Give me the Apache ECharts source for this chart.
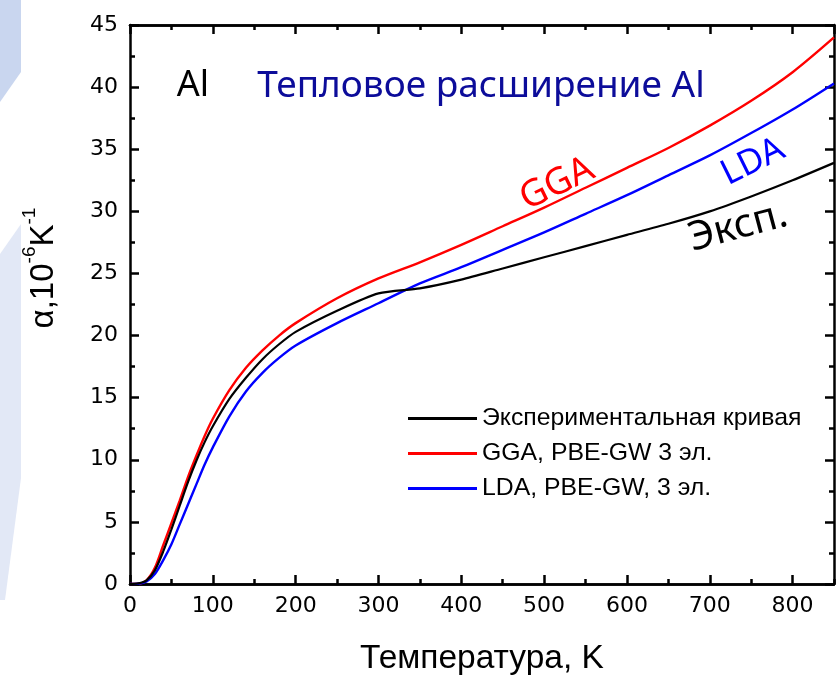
<!DOCTYPE html>
<html>
<head>
<meta charset="utf-8">
<script src="https://cdn.jsdelivr.net/npm/echarts@6/dist/echarts.min.js"></script>
<style>
  html, body { margin: 0; padding: 0; background: #ffffff; }
  #chart { width: 836px; height: 681px; }
</style>
</head>
<body>
<div id="chart"></div>
<script>
// Temperature grid, K
const temps = [0, 10, 20, 30, 40, 50, 60, 70, 80, 90, 100, 120, 140, 160, 180, 200, 250, 300, 350, 400, 450, 500, 550, 600, 650, 700, 750, 800, 850];
// Linear thermal expansion coefficient, 10^-6 K^-1
const expCurve = [0, 0.05, 0.3, 1.1, 2.6, 4.4, 6.3, 8.2, 9.9, 11.4, 12.7, 14.9, 16.6, 18.1, 19.3, 20.3, 22.0, 23.4, 23.8, 24.5, 25.4, 26.3, 27.2, 28.1, 29.0, 30.0, 31.2, 32.5, 33.9];
const ggaCurve = [0, 0.02, 0.3, 1.3, 3.1, 4.9, 6.7, 8.6, 10.3, 11.9, 13.3, 15.6, 17.4, 18.8, 20.0, 21.0, 23.0, 24.6, 25.9, 27.3, 28.8, 30.3, 31.9, 33.5, 35.1, 36.9, 38.9, 41.2, 44.0];
const ldaCurve = [0, 0.02, 0.2, 0.8, 1.9, 3.2, 4.8, 6.4, 8.0, 9.6, 11.0, 13.5, 15.5, 17.0, 18.2, 19.2, 21.0, 22.6, 24.2, 25.5, 26.9, 28.3, 29.8, 31.3, 32.9, 34.5, 36.3, 38.2, 40.3];

const seriesNames = ['Экспериментальная кривая', 'GGA, PBE-GW 3 эл.', 'LDA, PBE-GW, 3 эл.'];
const xTitle = 'Температура, K';

const pairs = (ys) => temps.map((t, i) => [t, ys[i]]);

const tickFont = 'DejaVu Sans';
const axisLine = { show: true, onZero: false, lineStyle: { color: '#000', width: 2.5 } };

function xAx(pos, interval, len, labels) {
  return {
    type: 'value', position: pos, min: 0, max: 850, interval: interval,
    axisLine: axisLine,
    axisTick: { show: true, inside: true, length: len, lineStyle: { color: '#000', width: 2.5 } },
    axisLabel: labels ? { show: true, showMaxLabel: false, margin: 11, fontFamily: tickFont, fontSize: 22, color: '#000' } : { show: false },
    splitLine: { show: false }
  };
}
function yAx(pos, labels) {
  return {
    type: 'value', position: pos, min: 0, max: 45, interval: 5,
    axisLine: axisLine,
    axisTick: { show: true, inside: true, length: 9, lineStyle: { color: '#000', width: 2.5 } },
    minorTick: { show: true, splitNumber: 2, length: 5, lineStyle: { color: '#000', width: 2.5 } },
    axisLabel: labels ? { show: true, margin: 12, fontFamily: tickFont, fontSize: 22, color: '#000' } : { show: false },
    splitLine: { show: false }
  };
}

const chart = echarts.init(document.getElementById('chart'), null, { renderer: 'canvas' });

chart.setOption({
  backgroundColor: '#ffffff',
  animation: false,
  grid: { left: 130, right: 2, top: 25, bottom: 82 },
  xAxis: [
    Object.assign(xAx('bottom', 100, 9, true), {
      name: xTitle, nameLocation: 'middle', nameGap: 58,
      nameTextStyle: { fontFamily: 'Liberation Sans', fontSize: 33.5, color: '#000' }
    }),
    xAx('bottom', 50, 5, false),
    xAx('top', 100, 9, false),
    xAx('top', 50, 5, false)
  ],
  yAxis: [yAx('left', true), yAx('right', false)],
  legend: {
    orient: 'vertical', left: 403, top: 401,
    icon: 'rect', itemWidth: 69, itemHeight: 3, itemGap: 10,
    textStyle: { fontFamily: 'Liberation Sans', fontSize: 24.8, lineHeight: 24, color: '#000' },
    data: seriesNames
  },
  series: [
    { name: seriesNames[0], type: 'line', data: pairs(expCurve), showSymbol: false, smooth: 0.25,
      color: '#000000', lineStyle: { color: '#000000', width: 2.2 }, z: 3 },
    { name: seriesNames[1], type: 'line', data: pairs(ggaCurve), showSymbol: false, smooth: 0.3,
      color: '#ff0000', lineStyle: { color: '#ff0000', width: 2.4 }, z: 2 },
    { name: seriesNames[2], type: 'line', data: pairs(ldaCurve), showSymbol: false, smooth: 0.3,
      color: '#0000ff', lineStyle: { color: '#0000ff', width: 2.4 }, z: 2 }
  ],
  graphic: [
    // slide background shapes on the left edge
    { type: 'polygon', z: -10, shape: { points: [[0, 0], [21, 0], [21, 72], [0, 102]] }, style: { fill: '#c9d6ef' } },
    { type: 'polygon', z: -10, shape: { points: [[0, 254], [21, 224], [21, 478], [5, 600], [0, 600]] }, style: { fill: '#e2e8f6' } },
    // y-axis title
    { type: 'text', x: 40, y: 268, rotation: Math.PI / 2, z: 10,
      style: {
        text: '{a|α,10}{s|-6}{a|K}{s|-1}',
        align: 'center', verticalAlign: 'middle',
        rich: {
          a: { fontFamily: 'Liberation Sans', fontSize: 33, fill: '#000', verticalAlign: 'bottom', lineHeight: 40 },
          s: { fontFamily: 'Liberation Sans', fontSize: 19, fill: '#000', verticalAlign: 'top', lineHeight: 40 }
        }
      } },
    // annotations
    { type: 'text', x: 193, y: 86, z: 10, style: { text: 'Al', fontFamily: 'Noto Sans', fontSize: 36, fill: '#000', align: 'center', verticalAlign: 'middle' } },
    { type: 'text', x: 481, y: 86, z: 10, style: { text: 'Тепловое расширение Al', fontFamily: 'Noto Sans', fontSize: 37, fill: '#0c0c9a', align: 'center', verticalAlign: 'middle' } },
    { type: 'text', x: 557, y: 184, rotation: 0.45, z: 10, style: { text: 'GGA', fontFamily: 'Noto Sans', fontSize: 37, fill: '#ff0000', align: 'center', verticalAlign: 'middle' } },
    { type: 'text', x: 753, y: 162, rotation: 0.46, z: 10, style: { text: 'LDA', fontFamily: 'Noto Sans', fontSize: 35, fill: '#0000ff', align: 'center', verticalAlign: 'middle' } },
    { type: 'text', x: 738, y: 227, rotation: 0.26, z: 10, style: { text: 'Эксп.', fontFamily: 'Noto Sans', fontSize: 40, fill: '#000', align: 'center', verticalAlign: 'middle' } }
  ]
});
</script>
</body>
</html>
